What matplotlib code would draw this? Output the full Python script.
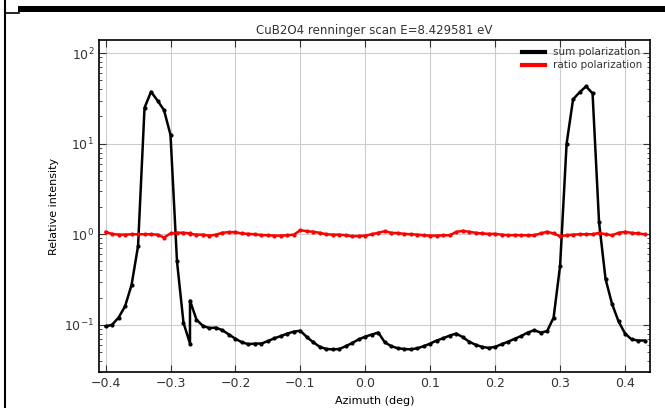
import numpy as np
import matplotlib
matplotlib.use("Agg")
import matplotlib.pyplot as plt
from matplotlib.lines import Line2D
from matplotlib.patches import Rectangle

# azimuth (deg) -- the scan restarts at -0.27, so that value appears twice
azimuth = [-0.40, -0.39, -0.38, -0.37, -0.36, -0.35, -0.34, -0.33, -0.32, -0.31,
           -0.30, -0.29, -0.28, -0.27, -0.27, -0.26, -0.25, -0.24, -0.23, -0.22,
           -0.21, -0.20, -0.19, -0.18, -0.17, -0.16, -0.15, -0.14, -0.13, -0.12,
           -0.11, -0.10, -0.09, -0.08, -0.07, -0.06, -0.05, -0.04, -0.03, -0.02,
           -0.01, 0.00, 0.01, 0.02, 0.03, 0.04, 0.05, 0.06, 0.07, 0.08,
           0.09, 0.10, 0.11, 0.12, 0.13, 0.14, 0.15, 0.16, 0.17, 0.18,
           0.19, 0.20, 0.21, 0.22, 0.23, 0.24, 0.25, 0.26, 0.27, 0.28,
           0.29, 0.30, 0.31, 0.32, 0.33, 0.34, 0.35, 0.36, 0.37, 0.38,
           0.39, 0.40, 0.41, 0.42, 0.43]

sum_pol = [0.096, 0.100, 0.12, 0.16, 0.275, 0.74, 25.0, 37.5, 30.0, 23.5,
           12.5, 0.50, 0.105, 0.062, 0.185, 0.114, 0.097, 0.092, 0.093, 0.087,
           0.078, 0.070, 0.064, 0.061, 0.062, 0.062, 0.066, 0.071, 0.075, 0.080,
           0.084, 0.086, 0.073, 0.064, 0.057, 0.054, 0.0535, 0.054, 0.058, 0.063,
           0.069, 0.074, 0.078, 0.082, 0.064, 0.058, 0.055, 0.054, 0.0535, 0.055,
           0.058, 0.062, 0.067, 0.071, 0.076, 0.080, 0.073, 0.065, 0.060, 0.057,
           0.0555, 0.057, 0.061, 0.065, 0.070, 0.075, 0.082, 0.087, 0.082, 0.085,
           0.12, 0.45, 10.0, 31.0, 37.0, 43.0, 36.0, 1.35, 0.32, 0.17,
           0.109, 0.080, 0.069, 0.067, 0.067]

ratio_pol = [1.06, 1.01, 0.99, 0.99, 1.00, 1.00, 1.00, 1.00, 0.99, 0.92,
             1.02, 1.04, 1.04, 1.02, 1.01, 0.99, 0.99, 0.965, 0.99, 1.04,
             1.055, 1.055, 1.02, 1.01, 1.00, 0.98, 0.975, 0.965, 0.965, 0.975,
             0.99, 1.11, 1.08, 1.065, 1.036, 1.00, 0.99, 0.99, 0.975, 0.95,
             0.957, 0.965, 1.00, 1.04, 1.08, 1.036, 1.03, 1.01, 1.00, 0.99,
             0.975, 0.965, 0.965, 0.975, 0.975, 1.06, 1.09, 1.065, 1.036, 1.02,
             1.01, 1.01, 0.99, 0.975, 0.98, 0.975, 0.975, 0.975, 1.02, 1.065,
             1.02, 0.95, 0.975, 0.99, 1.00, 1.00, 1.00, 1.036, 1.00, 0.975,
             1.036, 1.065, 1.036, 1.02, 1.00]

x_ticks = [-0.4, -0.3, -0.2, -0.1, 0.0, 0.1, 0.2, 0.3, 0.4]

plt.rcParams["font.family"] = ["DejaVu Sans"]
plt.rcParams["text.color"] = "#333333"
plt.rcParams["xtick.color"] = "#333333"
plt.rcParams["ytick.color"] = "#333333"

fig = plt.figure(figsize=(6.65, 4.08), dpi=100)
ax = fig.add_axes([0.149, 0.088, 0.828, 0.814])

ax.plot(azimuth, sum_pol, color="black", lw=1.8, marker="o", ms=2,
        label="sum polarization")
ax.plot(azimuth, ratio_pol, color="red", lw=1.8, marker="o", ms=2,
        label="ratio polarization")

ax.set_yscale("log")
ax.set_xlim(-0.41, 0.438)
ax.set_ylim(0.03, 140)
ax.set_xticks(x_ticks)
ax.set_xticklabels([f"{t:.1f}".replace("-", "\u2212") for t in x_ticks])
ax.grid(True, which="major", color="#cccccc", lw=0.8)
ax.tick_params(which="both", direction="in", top=True, right=True, labelsize=9)
ax.tick_params(which="major", length=5)
ax.tick_params(which="minor", length=2.5)
for s in ax.spines.values():
    s.set_linewidth(1.2)

ax.set_title("CuB2O4 renninger scan E=8.429581 eV", fontsize=8.5, pad=4)
ax.set_xlabel("Azimuth (deg)", fontsize=8)
ax.set_ylabel("Relative intensity", fontsize=8)

leg = ax.legend(loc="upper right", frameon=False, fontsize=7.5,
                handlelength=2.2, borderaxespad=0.3, labelspacing=0.3)
for h in leg.legend_handles:
    h.set_marker("")
    h.set_linewidth(3)

# screenshot border pieces
fig.add_artist(Rectangle((18 / 665, 1 - 12 / 408), 1.0, 6 / 408,
                         transform=fig.transFigure, color="black", lw=0))
fig.add_artist(Line2D([5 / 665, 5 / 665], [0, 1], transform=fig.transFigure,
                      color="black", lw=1.5))
fig.add_artist(Line2D([5 / 665, 19 / 665], [1 - 12.5 / 408, 1 - 12.5 / 408],
                      transform=fig.transFigure, color="black", lw=1.2))

fig.savefig("out.png", dpi=100)
